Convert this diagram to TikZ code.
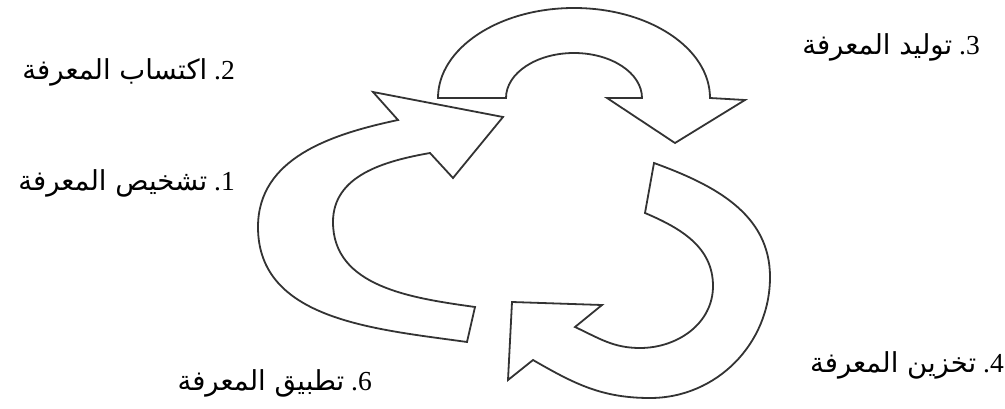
\documentclass[tikz,border=0pt]{standalone}
\usepackage{fontspec}
\setmainfont{Liberation Serif}
\newfontfamily\arabicfont[Script=Arabic]{DejaVu Sans}
\TeXXeTstate=1

\begin{document}
\begin{tikzpicture}[x=1pt, y=1pt,
    every node/.style={font=\fontsize{27.5}{32}\selectfont, anchor=east, inner sep=0pt},
    band/.style={draw=black!80, line width=1.8pt, line join=miter}]
    \useasboundingbox (0,0) rectangle (1005,408);
    \draw[band] (438,310) arc[start angle=180, end angle=0, x radius=136, y radius=90]
        -- (745,308) -- (675,265) -- (607,310) -- (642,310)
        arc[start angle=0, end angle=180, x radius=68, y radius=45] -- cycle;
    \draw[band] (475,101) -- (467,66)
        to[out=172, in=-90] (258,181) to[out=90, in=192] (398,288)
        -- (373,316) -- (503,291) -- (453,230) -- (430,255)
        to[out=190, in=90] (333,186) to[out=-90, in=172] (475,101)
        -- cycle;
    \draw[band] (645,195) -- (654,245)
        to[out=-20, in=90] (770,131) to[out=-90, in=0] (650,10) to[out=180, in=-30] (533,48)
        -- (508,28) -- (512,106) -- (602,103) -- (575,81)
        to[out=-25, in=180] (640,60) to[out=0, in=-90] (713,122) to[out=90, in=-23] (645,195)
        -- cycle;
    \node (acq) at (235,336) {{\arabicfont\beginR اكتساب المعرفة\endR} .2};
    \node (diag) at (235,225) {{\arabicfont\beginR تشخيص المعرفة\endR} .1};
    \node (gen) at (980,361) {{\arabicfont\beginR توليد المعرفة\endR} .3};
    \node (store) at (1004,43) {{\arabicfont\beginR تخزين المعرفة\endR} .4};
    \node (apply) at (372,25) {{\arabicfont\beginR تطبيق المعرفة\endR} .6};
\end{tikzpicture}
\end{document}
